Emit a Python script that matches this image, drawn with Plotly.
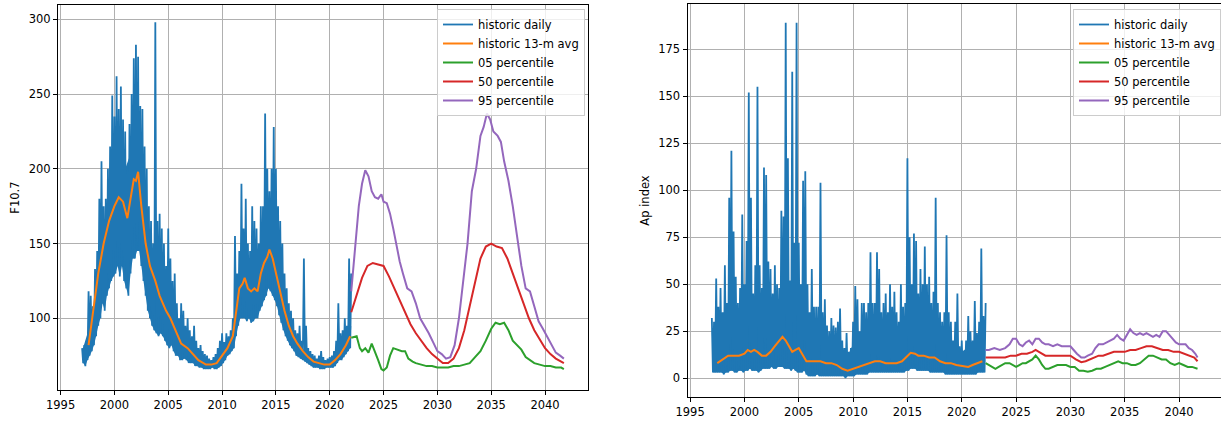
import plotly.graph_objects as go

# ---------------- F10.7 panel data ----------------
# daily envelope: upper values at 1997.0 + 0.2k, lower values at 1997.1 + 0.2k
f107_daily_hi = [
    80, 82, 85, 118, 115,
    108, 133, 145, 180, 205,
    175, 180, 200, 215, 249,
    235, 262, 240, 255, 233,
    225, 200, 230, 250, 274,
    283, 275, 242, 240, 215,
    200, 175, 165, 150, 298,
    165, 170, 160, 150, 135,
    160, 140, 125, 130, 110,
    100, 110, 105, 95, 100,
    92, 88, 95, 85, 80,
    82, 78, 76, 75, 73,
    72, 74, 76, 80, 85,
    90, 84, 90, 88, 92,
    100, 155, 130, 145, 190,
    160, 180, 150, 145, 175,
    165, 160, 150, 175, 175,
    237, 200, 185, 200, 228,
    200, 175, 165, 150, 130,
    120, 110, 105, 100, 92,
    90, 95, 85, 140, 95,
    80, 78, 76, 75, 73,
    75, 78, 74, 72, 73,
    74, 75, 78, 85, 110,
    90, 92, 100, 95, 140,
    130,
]
f107_daily_lo = [
    70, 68, 72, 75, 78,
    82, 88, 95, 100, 110,
    105, 115, 120, 125, 128,
    130, 135, 128, 135, 125,
    120, 115, 130, 140, 140,
    145, 145, 135, 125, 115,
    105, 100, 95, 92, 90,
    88, 90, 88, 85, 82,
    80, 82, 78, 75, 75,
    72, 72, 73, 72, 70,
    70, 70, 68, 68, 67,
    67, 66, 66, 66, 66,
    67, 66, 66, 67, 68,
    70, 72, 75, 76, 78,
    80, 88, 95, 100, 100,
    100, 98, 100, 97, 98,
    100, 100, 105, 108, 112,
    115, 120, 118, 115, 112,
    108, 102, 97, 92, 88,
    85, 82, 80, 78, 75,
    74, 73, 72, 71, 70,
    69, 68, 67, 67, 67,
    66, 66, 66, 67, 67,
    67, 67, 68, 70, 72,
    72, 74, 76, 78, 80,
]
# top of the densely filled core of the daily band, every 0.5 yr from 1997.0
f107_core_top = [78, 90, 100, 130, 160, 180, 200, 210, 200, 210,
                 225, 210, 170, 140, 130, 120, 110, 100, 90, 85,
                 80, 76, 73, 71, 70, 72, 80, 82, 88, 120,
                 135, 130, 130, 140, 160, 160, 150, 130, 105, 95,
                 85, 80, 74, 72, 70, 69, 70, 73, 80, 85,
                 95]

f107_avg_x = [1997.6, 1998.0, 1998.5, 1999.0, 1999.5, 2000.0, 2000.4, 2000.8, 2001.2, 2001.5,
              2001.8, 2002.0, 2002.2, 2002.5, 2002.9, 2003.3, 2003.8, 2004.2, 2004.8, 2005.2,
              2005.7, 2006.2, 2006.8, 2007.3, 2007.8, 2008.5, 2009.0, 2009.5, 2010.0, 2010.5,
              2011.0, 2011.3, 2011.6, 2011.9, 2012.1, 2012.4, 2012.7, 2013.0, 2013.3, 2013.6,
              2013.9, 2014.2, 2014.4, 2014.7, 2015.0, 2015.4, 2015.8, 2016.2, 2016.6, 2017.0,
              2017.5, 2018.0, 2018.5, 2019.0, 2019.5, 2020.0, 2020.5, 2021.0, 2021.5, 2021.9]
f107_avg_y = [82, 105, 130, 150, 165, 175, 181, 178, 167, 180,
              193, 192, 198, 175, 150, 135, 125, 115, 105, 100,
              92, 83, 80, 76, 72, 69, 69, 70, 75, 80,
              88, 105, 120, 123, 127, 120, 118, 120, 118, 130,
              137, 141, 146, 140, 130, 118, 105, 95, 88, 83,
              78, 74, 71, 70, 69, 69, 72, 76, 82, 88]

f107_p50_x = [2022.0, 2022.5, 2023.0, 2023.5, 2024.0, 2024.5, 2025.0, 2025.5, 2026.0, 2026.5,
              2027.0, 2027.5, 2028.0, 2028.5, 2029.0, 2029.5, 2030.0, 2030.5, 2031.0, 2031.5,
              2032.0, 2032.5, 2033.0, 2033.5, 2034.0, 2034.5, 2035.0, 2035.5, 2036.0, 2036.5,
              2037.0, 2037.5, 2038.0, 2038.5, 2039.0, 2039.5, 2040.0, 2040.5, 2041.0, 2041.5, 2041.75]
f107_p50_y = [104, 115, 127, 135, 137, 136, 135, 128, 120, 112,
              104, 96, 90, 85, 80, 76, 73, 70, 70, 73,
              80, 92, 108, 125, 140, 148, 150, 148, 147, 140,
              130, 120, 110, 100, 92, 86, 80, 76, 73, 71, 70]

f107_p95_x = [2022.0, 2022.3, 2022.7, 2023.0, 2023.3, 2023.6, 2023.9, 2024.2, 2024.5, 2024.8,
              2025.0, 2025.3, 2025.6, 2025.9, 2026.2, 2026.5, 2026.8, 2027.2, 2027.6, 2028.0,
              2028.4, 2028.8, 2029.2, 2029.6, 2030.0, 2030.4, 2030.8, 2031.2, 2031.6, 2032.0,
              2032.4, 2032.8, 2033.2, 2033.6, 2034.0, 2034.3, 2034.6, 2034.9, 2035.2, 2035.6,
              2035.9, 2036.2, 2036.6, 2037.0, 2037.4, 2037.8, 2038.2, 2038.6, 2039.0, 2039.4,
              2039.8, 2040.2, 2040.6, 2041.0, 2041.4, 2041.75]
f107_p95_y = [118, 145, 175, 190, 199, 195, 185, 181, 180, 183,
              178, 177, 170, 160, 148, 138, 130, 120, 118, 110,
              100, 95, 90, 84, 78, 76, 73, 74, 82, 100,
              125, 150, 185, 200, 222, 228, 237, 233, 225, 222,
              218, 205, 192, 175, 155, 135, 120, 118, 108, 98,
              93, 88, 82, 77, 75, 73]

f107_p05_x = [2022.0, 2022.5, 2022.8, 2023.0, 2023.3, 2023.6, 2023.9, 2024.2, 2024.5, 2024.8,
              2025.0, 2025.3, 2025.6, 2025.9, 2026.3, 2026.7, 2027.0, 2027.3, 2027.7, 2028.0,
              2028.5, 2029.0, 2029.5, 2030.0, 2030.5, 2031.0, 2031.5, 2032.0, 2032.5, 2033.0,
              2033.5, 2034.0, 2034.5, 2035.0, 2035.4, 2035.8, 2036.2, 2036.6, 2037.0, 2037.4,
              2037.8, 2038.2, 2038.6, 2039.0, 2039.5, 2040.0, 2040.5, 2041.0, 2041.5, 2041.75]
f107_p05_y = [87, 88, 80, 78, 80, 77, 83, 78, 72, 66,
              65, 67, 75, 80, 79, 78, 78, 73, 71, 70,
              69, 68, 68, 67, 67, 67, 68, 68, 69, 70,
              74, 78, 85, 93, 97, 96, 97, 92, 85, 82,
              79, 74, 72, 70, 69, 68, 68, 67, 67, 66]

# ---------------- Ap panel data ----------------
ap_daily_hi = [
    32, 30, 53, 38, 48,
    35, 60, 40, 96, 121,
    78, 54, 40, 48, 87,
    50, 73, 152, 96, 45,
    60, 155, 60, 48, 112,
    108, 62, 58, 45, 60,
    50, 48, 89, 86, 189,
    117, 52, 163, 72, 189,
    72, 50, 105, 110, 50,
    35, 58, 38, 38, 38,
    104, 35, 42, 28, 25,
    32, 28, 27, 30, 37,
    20, 16, 24, 14, 16,
    30, 49, 42, 25, 40,
    40, 35, 40, 67, 40,
    40, 67, 58, 35, 40,
    45, 35, 50, 38, 46,
    35, 30, 50, 38, 40,
    117, 75, 50, 77, 73,
    45, 58, 50, 70, 50,
    54, 40, 46, 96, 40,
    35, 30, 35, 76, 35,
    30, 20, 30, 45, 17,
    20, 14, 20, 33, 25,
    20, 41, 24, 30, 69,
    33, 40,
]
ap_daily_lo = [
    3, 3, 3, 3, 3,
    2, 3, 3, 4, 4,
    3, 3, 4, 4, 3,
    4, 4, 5, 4, 4,
    4, 3, 4, 5, 5,
    5, 5, 6, 5, 5,
    6, 6, 6, 5, 5,
    5, 4, 5, 4, 3,
    3, 3, 4, 2, 1,
    1, 1, 1, 2, 1,
    1, 1, 1, 1, 1,
    1, 1, 1, 1, 1,
    1, 0, 1, 1, 1,
    1, 2, 2, 2, 2,
    2, 2, 3, 3, 3,
    3, 3, 3, 3, 3,
    3, 3, 3, 3, 3,
    3, 3, 3, 3, 4,
    4, 5, 5, 5, 4,
    4, 4, 4, 4, 4,
    3, 3, 3, 3, 3,
    3, 3, 2, 2, 2,
    2, 2, 2, 2, 2,
    2, 2, 2, 2, 2,
    2, 2, 3, 3, 3,
    3,
]
ap_core_top = [25, 28, 30, 35, 35, 32, 35, 38, 35, 35,
               35, 32, 35, 40, 38, 38, 38, 35, 28, 28,
               25, 22, 22, 20, 13, 12, 18, 20, 22, 25,
               28, 28, 25, 25, 25, 25, 32, 35, 32, 30,
               30, 30, 25, 22, 18, 16, 14, 16, 18, 22,
               25]

ap_avg_x = [1997.5, 1998.0, 1998.5, 1999.0, 1999.5, 2000.0, 2000.3, 2000.6, 2000.9, 2001.2,
            2001.6, 2002.0, 2002.4, 2002.8, 2003.2, 2003.5, 2003.8, 2004.1, 2004.4, 2004.7,
            2005.0, 2005.3, 2005.7, 2006.0, 2006.5, 2007.0, 2007.5, 2008.0, 2008.5, 2009.0,
            2009.5, 2010.0, 2010.5, 2011.0, 2011.5, 2012.0, 2012.5, 2013.0, 2013.5, 2014.0,
            2014.5, 2015.0, 2015.3, 2015.7, 2016.0, 2016.5, 2017.0, 2017.5, 2018.0, 2018.5,
            2019.0, 2019.5, 2020.0, 2020.3, 2020.6, 2021.0, 2021.5, 2021.9]
ap_avg_y = [8, 10, 12, 12, 12, 13, 15, 14, 15, 14,
            12, 12, 14, 17, 20, 22, 20, 17, 14, 15,
            16, 13, 9, 9, 9, 9, 8, 8, 7, 5,
            4, 5, 6, 7, 8, 9, 9, 8, 8, 8,
            9, 12, 13.5, 13, 12, 12, 11, 11, 9, 8,
            8, 7, 6.5, 6, 6, 7, 8, 9]

ap_p95_x = [2022.2, 2022.5, 2023.0, 2023.5, 2024.0, 2024.4, 2024.7, 2025.0, 2025.3, 2025.6,
            2025.9, 2026.2, 2026.5, 2026.8, 2027.1, 2027.4, 2027.7, 2028.0, 2028.4, 2028.8,
            2029.2, 2029.6, 2030.0, 2030.3, 2030.6, 2031.0, 2031.3, 2031.6, 2032.0, 2032.3,
            2032.6, 2033.0, 2033.3, 2033.6, 2034.0, 2034.3, 2034.6, 2034.9, 2035.2, 2035.5,
            2035.8, 2036.1, 2036.4, 2036.7, 2037.0, 2037.3, 2037.6, 2037.9, 2038.2, 2038.5,
            2038.8, 2039.1, 2039.4, 2039.7, 2040.0, 2040.3, 2040.6, 2040.9, 2041.2, 2041.5, 2041.7]
ap_p95_y = [15, 15, 16, 15, 16, 18, 21, 21, 18, 17,
            19, 20, 18, 21, 21, 19, 18, 18, 17, 18,
            17, 17, 17, 15, 13, 11, 11, 12, 13, 16,
            18, 18, 19, 20, 21, 23, 21, 20, 23, 26,
            24, 23, 24, 23, 24, 23, 22, 23, 22, 25,
            25, 23, 21, 19, 18, 18, 18, 16, 15, 13, 11]

ap_p50_x = [2022.2, 2023.0, 2024.0, 2024.5, 2025.0, 2025.5, 2026.0, 2026.5, 2026.8, 2027.1,
            2027.4, 2027.7, 2028.0, 2029.0, 2030.0, 2030.5, 2031.0, 2031.4, 2031.8, 2032.2,
            2032.6, 2033.0, 2033.5, 2034.0, 2034.5, 2035.0, 2035.5, 2036.0, 2036.5, 2037.0,
            2037.5, 2038.0, 2038.5, 2039.0, 2039.5, 2040.0, 2040.5, 2041.0, 2041.4, 2041.7]
ap_p50_y = [11, 11, 11, 12, 12, 13, 13, 14, 15, 14,
            13, 12, 12, 12, 12, 10, 8.5, 9, 10, 11,
            12, 12, 13, 14, 14, 14, 15, 15, 16, 17,
            17, 16, 15, 15, 14, 14, 13, 12, 11, 9]

ap_p05_x = [2022.2, 2022.5, 2022.8, 2023.1, 2023.4, 2023.7, 2024.0, 2024.4, 2024.7, 2025.0,
            2025.3, 2025.6, 2025.9, 2026.2, 2026.5, 2026.8, 2027.1, 2027.4, 2027.7, 2028.0,
            2028.4, 2028.8, 2029.2, 2029.6, 2030.0, 2030.4, 2030.8, 2031.2, 2031.6, 2032.0,
            2032.4, 2032.8, 2033.2, 2033.6, 2034.0, 2034.4, 2034.8, 2035.2, 2035.6, 2036.0,
            2036.4, 2036.8, 2037.2, 2037.6, 2038.0, 2038.4, 2038.8, 2039.2, 2039.6, 2040.0,
            2040.4, 2040.8, 2041.2, 2041.7]
ap_p05_y = [8, 7, 6, 5, 6, 7, 8, 8, 7, 6,
            7, 8, 8, 9, 10, 12, 10, 7, 5, 5,
            6, 7, 7, 7, 6, 6, 4, 4, 3.5, 4,
            5, 5, 6, 7, 8, 9, 8, 8, 7, 7,
            8, 10, 12, 12, 11, 10, 10, 8, 7, 8,
            7, 6, 6, 5]

legend_labels = ["historic daily", "historic 13-m avg", "05 percentile", "50 percentile", "95 percentile"]
colors = ["#1f77b4", "#ff7f0e", "#2ca02c", "#d62728", "#9467bd"]
x_ticks = [1995, 2000, 2005, 2010, 2015, 2020, 2025, 2030, 2035, 2040]
T0 = 1997.0      # first daily sample
STEP = 0.2       # spacing of the envelope samples (years)
CORE_STEP = 0.5  # spacing of the core-top samples (years)


def zigzag(hi, lo):
    xs, ys = [], []
    for k, h in enumerate(hi):
        xs.append(T0 + STEP * k)
        ys.append(h)
        if k < len(lo):
            xs.append(T0 + STEP * k + STEP / 2)
            ys.append(lo[k])
    return xs, ys


def core_polygon(top, lo):
    xs = [T0 + CORE_STEP * k for k in range(len(top))]
    ys = list(top)
    lo_x = [T0 + STEP * k + STEP / 2 for k in range(len(lo))]
    xs += lo_x[::-1]
    ys += list(lo)[::-1]
    return xs, ys


fig = go.Figure()
panels = [
    ("x", "y", "legend", f107_daily_hi, f107_daily_lo, f107_core_top,
     [(f107_avg_x, f107_avg_y), (f107_p05_x, f107_p05_y), (f107_p50_x, f107_p50_y), (f107_p95_x, f107_p95_y)]),
    ("x2", "y2", "legend2", ap_daily_hi, ap_daily_lo, ap_core_top,
     [(ap_avg_x, ap_avg_y), (ap_p05_x, ap_p05_y), (ap_p50_x, ap_p50_y), (ap_p95_x, ap_p95_y)]),
]
for xa, ya, lg, hi, lo, core, others in panels:
    px, py = core_polygon(core, lo)
    fig.add_trace(go.Scatter(x=px, y=py, mode="none", fill="toself", fillcolor=colors[0],
                             showlegend=False, hoverinfo="skip", xaxis=xa, yaxis=ya))
    dx, dy = zigzag(hi, lo)
    fig.add_trace(go.Scatter(x=dx, y=dy, mode="lines", name=legend_labels[0],
                             line=dict(color=colors[0], width=1.8),
                             xaxis=xa, yaxis=ya, legend=lg))
    for (x, y), name, c in zip(others, legend_labels[1:], colors[1:]):
        fig.add_trace(go.Scatter(x=x, y=y, mode="lines", name=name,
                                 line=dict(color=c, width=2),
                                 xaxis=xa, yaxis=ya, legend=lg))

font = dict(family="DejaVu Sans", size=11.5, color="#000000")
axis_common = dict(showline=True, mirror=True, linecolor="#000000", linewidth=1,
                   showgrid=True, gridcolor="#b0b0b0", gridwidth=0.8,
                   ticks="outside", ticklen=4, tickcolor="#000000", tickwidth=1,
                   zeroline=False, automargin=False, tickfont=font)

legend_common = dict(bgcolor="rgba(255,255,255,0.8)", bordercolor="#cccccc", borderwidth=1,
                     font=dict(family="DejaVu Sans", size=11.5, color="#000000"),
                     xanchor="left", yanchor="top", itemwidth=30, tracegroupgap=0)

fig.update_layout(
    width=1221, height=421,
    margin=dict(l=0, r=0, t=0, b=0),
    paper_bgcolor="white", plot_bgcolor="white",
    font=font,
    xaxis=dict(domain=[58 / 1221, 588 / 1221], range=[1994.76, 2043.99],
               tickvals=x_ticks, anchor="y", **axis_common),
    yaxis=dict(domain=[1 - 390 / 421, 1 - 5 / 421], range=[52.0, 309.6], dtick=50,
               anchor="x", title=dict(text="F10.7", font=font, standoff=6), **axis_common),
    xaxis2=dict(domain=[687.5 / 1221, 1.0], range=[1994.76, 2043.86],
                tickvals=x_ticks, anchor="y2", **axis_common),
    yaxis2=dict(domain=[1 - 397 / 421, 1 - 4 / 421], range=[-10.0, 199.0], dtick=25,
                anchor="x2", title=dict(text="Ap index", font=font, standoff=6), **axis_common),
    legend=dict(x=437 / 1221, y=1 - 9 / 421, **legend_common),
    legend2=dict(x=1073 / 1221, y=1 - 9 / 421, **legend_common),
)

fig.write_html("out.html", config={"displayModeBar": False},
               post_script="document.body.style.margin='0';document.body.style.overflow='hidden';")
